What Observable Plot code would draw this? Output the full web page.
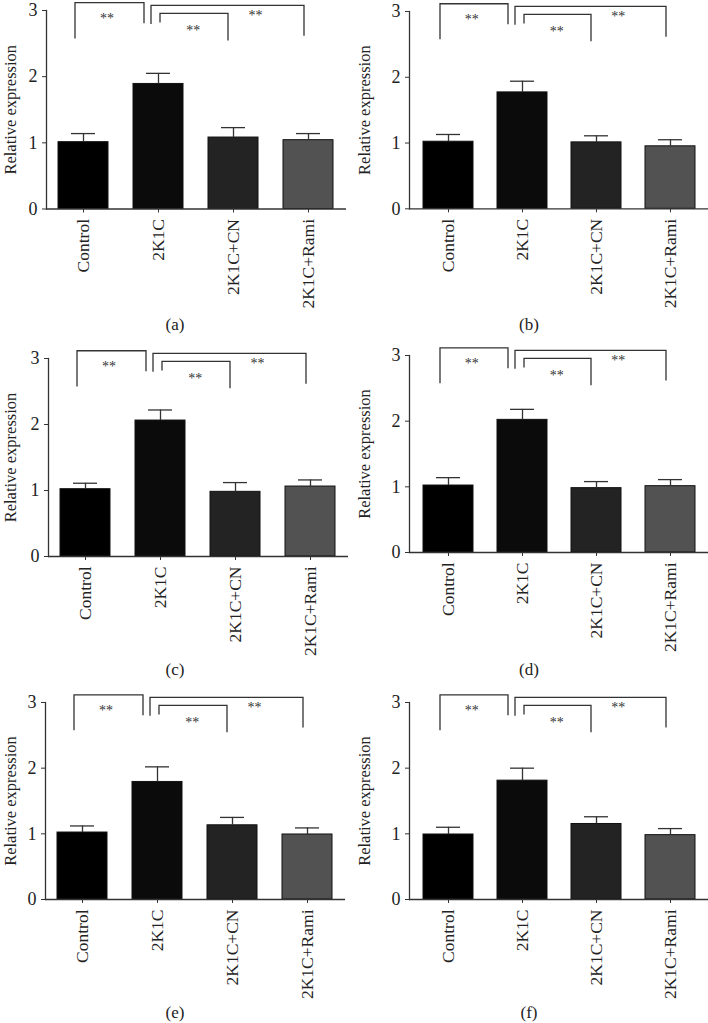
<!DOCTYPE html>
<html><head><meta charset="utf-8">
<script src="https://cdn.jsdelivr.net/npm/d3@7"></script>
<script src="https://cdn.jsdelivr.net/npm/@observablehq/plot@0.6"></script>
<style>
body{margin:0;background:#fff;}
#fig{position:relative;width:708px;height:1023px;overflow:hidden;font-family:"Liberation Serif",serif;}
.panel{position:absolute;}
.cap{position:absolute;font:17px "Liberation Serif",serif;color:#222;text-align:center;line-height:17px;}
</style></head><body><div id="fig"></div>
<script>
// ---- data ----
const groups = ["Control", "2K1C", "2K1C+CN", "2K1C+Rami"];
const panelLabels = ["(a)", "(b)", "(c)", "(d)", "(e)", "(f)"];
const yLabel = "Relative expression";
const yTicks = [0, 1, 2, 3];

const meanA = [1.01, 1.89, 1.08, 1.04], errA = [0.13, 0.16, 0.15, 0.10];
const meanB = [1.02, 1.77, 1.01, 0.95], errB = [0.11, 0.17, 0.10, 0.10];
const meanC = [1.02, 2.06, 0.98, 1.06], errC = [0.09, 0.16, 0.14, 0.10];
const meanD = [1.02, 2.02, 0.98, 1.01], errD = [0.12, 0.16, 0.10, 0.10];
const meanE = [1.02, 1.79, 1.13, 0.99], errE = [0.10, 0.23, 0.12, 0.10];
const meanF = [0.99, 1.81, 1.15, 0.98], errF = [0.11, 0.19, 0.11, 0.10];

// significance comparisons (same in every panel)
const cmpFrom = ["Control", "2K1C", "2K1C"];
const cmpTo = ["2K1C", "2K1C+CN", "2K1C+Rami"];
const cmpTop = [3.11, 2.95, 3.07];
const cmpLeftEnd = [2.57, 2.81, 2.79];
const cmpRightEnd = [2.80, 2.54, 2.61];
const cmpLabel = ["**", "**", "**"];
const cmpLabelY = [2.90, 2.72, 2.95];

// ---- style / layout ----
const barColors = ["#000000", "#0b0b0b", "#232323", "#525252"];
const bracketDx = [[-8, -14], [2, -5], [-7, -4]];
const starAt = [0.32, 0.47, 0.65];
const layout = [
  {left: 0,   top: 0,   ml: 46, mt: 10, ph: 198.5, cap: 316},
  {left: 354, top: 0,   ml: 55, mt: 11, ph: 197.3, cap: 316},
  {left: 0,   top: 340, ml: 48, mt: 18, ph: 198,   cap: 661},
  {left: 354, top: 340, ml: 55, mt: 15, ph: 197,   cap: 661},
  {left: 0,   top: 685, ml: 45, mt: 17, ph: 197,   cap: 1004},
  {left: 354, top: 685, ml: 55, mt: 17, ph: 197,   cap: 1004}
];
const means = [meanA, meanB, meanC, meanD, meanE, meanF];
const errs = [errA, errB, errC, errD, errE, errF];

function significance(index, scales) {
  const x = scales.x, y = scales.y;
  const c = k => x(k) + x.bandwidth() / 2;
  const g = d3.create("svg:g");
  cmpFrom.forEach((f, i) => {
    const x1 = c(f) + bracketDx[i][0], x2 = c(cmpTo[i]) + bracketDx[i][1];
    g.append("path")
      .attr("d", `M${x1},${y(cmpLeftEnd[i])}V${y(cmpTop[i])}H${x2}V${y(cmpRightEnd[i])}`)
      .attr("fill", "none").attr("stroke", "#333").attr("stroke-width", 1.3);
    g.append("text")
      .attr("x", c(f) + starAt[i] * (c(cmpTo[i]) - c(f)))
      .attr("y", y(cmpLabelY[i])).attr("dy", "0.45em")
      .attr("text-anchor", "middle").attr("font-size", 14).attr("fill", "#333")
      .text(cmpLabel[i]);
  });
  return g.node();
}

const fig = document.getElementById("fig");
layout.forEach((L, p) => {
  const rows = groups.map((g, i) => ({group: g, mean: means[p][i], err: errs[p][i]}));
  const width = 354;
  const mr = Math.max(0, width - L.ml - 300);
  const chart = Plot.plot({
    width, height: L.mt + L.ph + 105,
    marginLeft: L.ml, marginRight: mr, marginTop: L.mt, marginBottom: 105,
    style: {fontFamily: "'Liberation Serif', serif", fontSize: "16px", color: "#333", background: "transparent", overflow: "visible"},
    x: {domain: groups, paddingInner: 0.33, paddingOuter: 0.165, label: null},
    y: {domain: [0, 3], ticks: yTicks, label: null},
    color: {domain: groups, range: barColors},
    marks: [
      Plot.barY(rows, {x: "group", y: "mean", fill: "group", stroke: "#111", strokeWidth: 1}),
      Plot.ruleX(rows, {x: "group", y1: "mean", y2: d => d.mean + d.err, stroke: "#333", strokeWidth: 1.3}),
      Plot.tickY(rows, {x: "group", y: d => d.mean + d.err, stroke: "#333", strokeWidth: 1.3, insetLeft: 13, insetRight: 13}),
      Plot.ruleY([0], {stroke: "#333", strokeWidth: 1.3}),
      Plot.frame({anchor: "left", stroke: "#333", strokeWidth: 1.3}),
      Plot.axisY({ticks: yTicks, tickSize: 4, tickFormat: () => "", label: null}),
      Plot.axisX({tickSize: 4, tickFormat: () => "", label: null}),
      // tick labels
      Plot.text(yTicks, {y: d => d, text: d => String(d), frameAnchor: "left", textAnchor: "end", dx: -9, fontSize: 18, fill: "#222"}),
      Plot.text(groups, {x: d => d, text: d => d, frameAnchor: "bottom", rotate: -90, textAnchor: "end", lineAnchor: "middle", dy: 10, fontSize: 17.5, fill: "#222"}),
      Plot.text([yLabel], {text: d => d, frameAnchor: "left", rotate: -90, dx: 10 - L.ml, textAnchor: "middle", lineAnchor: "middle", fontSize: 16.5, fill: "#222"}),
      significance
    ]
  });
  const wrap = document.createElement("div");
  wrap.className = "panel";
  wrap.style.left = L.left + "px";
  wrap.style.top = L.top + "px";
  wrap.appendChild(chart);
  fig.appendChild(wrap);
  const cap = document.createElement("div");
  cap.className = "cap";
  cap.style.left = L.left + "px";
  cap.style.width = "350px";
  cap.style.top = L.cap + "px";
  cap.textContent = panelLabels[p];
  fig.appendChild(cap);
});
</script></body></html>
